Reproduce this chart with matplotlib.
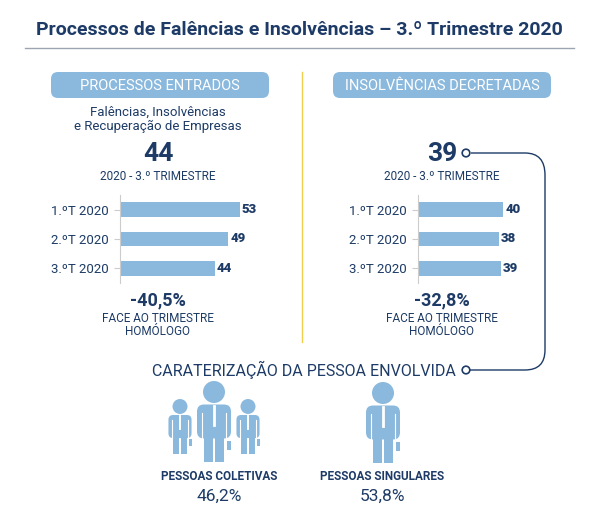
import matplotlib
matplotlib.use("Agg")
import matplotlib.pyplot as plt
from matplotlib.patches import FancyBboxPatch, Circle, Rectangle, PathPatch
from matplotlib.path import Path

NAVY = "#1d3b66"
LIGHT = "#8bb9dd"
GREY = "#9aa5b1"
YELLOW = "#f2cf4a"

quarters = ["1.ºT 2020", "2.ºT 2020", "3.ºT 2020"]
entrados = [53, 49, 44]
decretadas = [40, 38, 39]
pct_coletivas = "46,2%"
pct_singulares = "53,8%"

plt.rcParams["font.family"] = ["Roboto", "DejaVu Sans"]
W, H = 598, 520
fig = plt.figure(figsize=(W / 100, H / 100), dpi=100)
ax = fig.add_axes([0, 0, 1, 1])
ax.set_xlim(0, W)
ax.set_ylim(H, 0)
ax.axis("off")


def px_axes(x0, y0, x1, y1):
    return fig.add_axes([x0 / W, 1 - y1 / H, (x1 - x0) / W, (y1 - y0) / H])


ax.text(299, 30, "Processos de Falências e Insolvências – 3.º Trimestre 2020",
        ha="center", va="center", fontsize=14, fontweight="bold", color=NAVY)
ax.plot([25, 574], [48, 48], color=GREY, lw=1)
ax.plot([302, 302], [72, 342], color=YELLOW, lw=1)

for cx, label in [(160, "PROCESSOS ENTRADOS"), (442, "INSOLVÊNCIAS DECRETADAS")]:
    ax.add_patch(FancyBboxPatch((cx - 109, 72), 218, 26, boxstyle="round,pad=0,rounding_size=7",
                                fc=LIGHT, ec="none"))
    ax.text(cx, 85.5, label, ha="center", va="center", fontsize=10.5, color="white")

ax.text(158, 119, "Falências, Insolvências\ne Recuperação de Empresas", ha="center",
        va="center", fontsize=9.5, color=NAVY, linespacing=1.1)
ax.text(158, 154, "44", ha="center", va="center", fontsize=19, fontweight="bold", color=NAVY)
ax.text(158, 176, "2020 - 3.º TRIMESTRE", ha="center", va="center", fontsize=8.5, color=NAVY)
ax.text(442, 154, "39", ha="center", va="center", fontsize=19, fontweight="bold", color=NAVY)
ax.text(442, 176, "2020 - 3.º TRIMESTRE", ha="center", va="center", fontsize=8.5, color=NAVY)


def bars(x0, scale, lo, values):
    bx = px_axes(x0, 195, x0 + 160, 283)
    y = list(range(len(values)))
    bx.barh(y, values, height=0.5, color=LIGHT)
    bx.set_ylim(len(values) - 0.5, -0.5)
    bx.set_xlim(lo, lo + 160 / scale)
    for s in ["top", "right", "bottom"]:
        bx.spines[s].set_visible(False)
    bx.spines["left"].set_color("#cccccc")
    bx.set_xticks([])
    bx.set_yticks(y)
    bx.set_yticklabels(quarters, fontsize=9.5, color=NAVY)
    bx.tick_params(axis="y", length=4, color="#cccccc", pad=4)
    bx.patch.set_alpha(0)
    for i, v in enumerate(values):
        bx.text(v + 2 / scale, i, str(v), va="center", fontsize=9.5, fontweight="heavy", color=NAVY)


bars(120, 2.78, 10, entrados)
bars(418, 2.13, 0, decretadas)

ax.text(158, 300, "-40,5%", ha="center", va="center", fontsize=13, fontweight="bold", color=NAVY)
ax.text(158, 325, "FACE AO TRIMESTRE\nHOMÓLOGO", ha="center", va="center", fontsize=8.5,
        color=NAVY, linespacing=1.0)
ax.text(442, 300, "-32,8%", ha="center", va="center", fontsize=13, fontweight="bold", color=NAVY)
ax.text(442, 325, "FACE AO TRIMESTRE\nHOMÓLOGO", ha="center", va="center", fontsize=8.5,
        color=NAVY, linespacing=1.0)

# connector
verts = [(471, 153), (525, 153), (545, 153), (545, 175), (545, 350), (545, 370), (525, 370), (469, 370)]
codes = [Path.MOVETO, Path.LINETO, Path.CURVE3, Path.CURVE3, Path.LINETO, Path.CURVE3, Path.CURVE3, Path.LINETO]
ax.add_patch(PathPatch(Path(verts, codes), fc="none", ec=NAVY, lw=1))
for cy in (153, 370):
    ax.add_patch(Circle((466, cy), 3.8, fc="white", ec=NAVY, lw=1.2, zorder=3))

ax.text(304, 370, "CARATERIZAÇÃO DA PESSOA ENVOLVIDA", ha="center", va="center",
        fontsize=11.5, color=NAVY)


def person(cx, top, s):
    r = 11 * s
    ax.add_patch(Circle((cx, top + r), r, fc=LIGHT, ec="none"))
    bt = top + 2 * r + 1.5 * s
    w = 34 * s
    ax.add_patch(FancyBboxPatch((cx - w / 2, bt), w, 34 * s, boxstyle=f"round,pad=0,rounding_size={7*s}",
                                fc=LIGHT, ec="none"))
    ax.add_patch(Rectangle((cx - 10 * s, bt + 25 * s), 9 * s, 32 * s, fc=LIGHT, ec="none"))
    ax.add_patch(Rectangle((cx + 1 * s, bt + 25 * s), 9 * s, 32 * s, fc=LIGHT, ec="none"))
    ax.plot([cx, cx], [bt + 1 * s, bt + 20 * s], color="white", lw=2 * s)
    ax.plot([cx - w / 2 + 5 * s] * 2, [bt + 8 * s, bt + 34 * s], color="white", lw=0.8)
    ax.plot([cx + w / 2 - 5 * s] * 2, [bt + 8 * s, bt + 34 * s], color="white", lw=0.8)
    ax.add_patch(Rectangle((cx + w / 2 - 4 * s, bt + 36 * s), 4 * s, 9 * s, fc=LIGHT, ec="none"))


person(180, 399, 0.68)
person(248, 399, 0.68)
person(214, 381, 1.0)
person(383, 382, 1.0)

ax.text(219, 476, "PESSOAS COLETIVAS", ha="center", va="center", fontsize=8.5, fontweight="bold", color=NAVY)
ax.text(219, 496, pct_coletivas, ha="center", va="center", fontsize=12.5, color=NAVY)
ax.text(382, 476, "PESSOAS SINGULARES", ha="center", va="center", fontsize=8.5, fontweight="bold", color=NAVY)
ax.text(382, 496, pct_singulares, ha="center", va="center", fontsize=12.5, color=NAVY)

fig.savefig("out.png", dpi=100)
